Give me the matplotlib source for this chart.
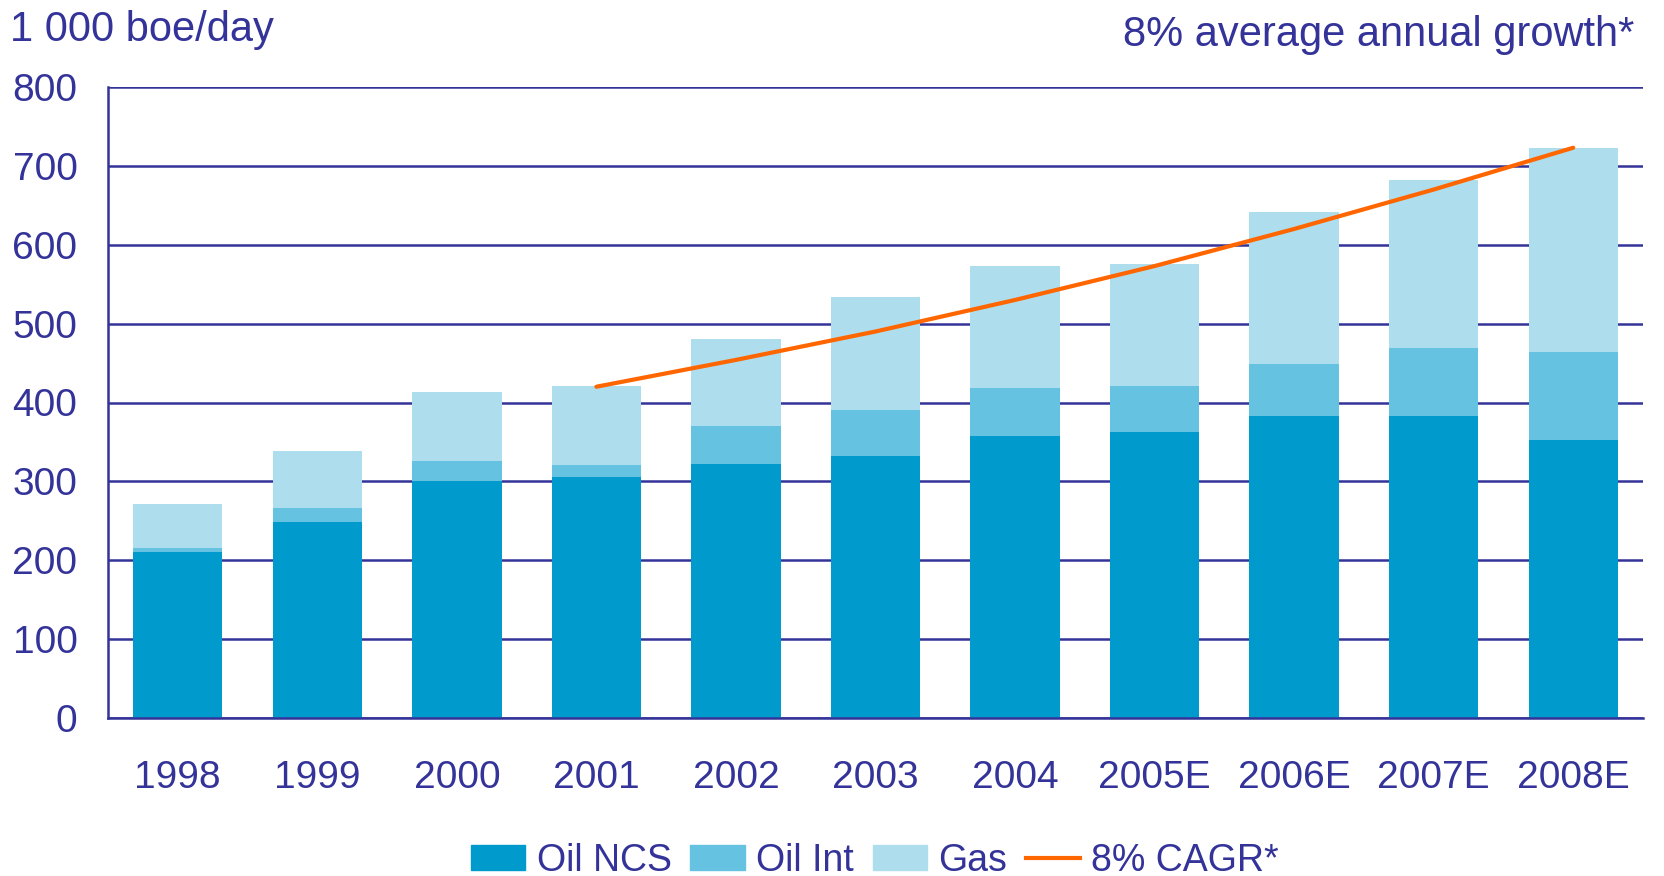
import numpy as np
import matplotlib.pyplot as plt
from matplotlib.patches import Patch
from matplotlib.lines import Line2D

plt.rcParams['font.family'] = ['Liberation Sans', 'DejaVu Sans']

# data (1 000 boe/day)
years = ['1998', '1999', '2000', '2001', '2002', '2003', '2004',
         '2005E', '2006E', '2007E', '2008E']
oil_ncs = [210, 248, 301, 306, 322, 332, 357, 363, 383, 383, 353]
oil_int = [5, 18, 25, 15, 48, 58, 61, 58, 66, 86, 111]
gas = [56, 73, 87, 100, 111, 144, 155, 155, 193, 213, 259]
cagr_years = ['2001', '2002', '2003', '2004', '2005E', '2006E', '2007E', '2008E']
cagr = [420, 454, 490, 530, 573, 620, 670, 723]

navy = '#333399'
c_ncs, c_int, c_gas, c_line = '#009ACD', '#66C2E1', '#AEDEEE', '#FF6600'

fig = plt.figure(figsize=(16.64, 8.76), dpi=100)
ax = fig.add_axes([108 / 1664, 1 - 718 / 876, (1643 - 108) / 1664, (718 - 87) / 876])

x = np.arange(len(years))
w = 0.64
ncs = np.array(oil_ncs)
oint = np.array(oil_int)
ax.bar(x, ncs, w, color=c_ncs, zorder=2)
ax.bar(x, oint, w, bottom=ncs, color=c_int, zorder=2)
ax.bar(x, gas, w, bottom=ncs + oint, color=c_gas, zorder=2)

xl = [years.index(y) for y in cagr_years]
ax.plot(xl, cagr, color=c_line, lw=3, zorder=3, solid_capstyle='round')

ax.set_xlim(-0.5, 10.5)
ax.set_ylim(0, 800)
ax.set_yticks(range(0, 801, 100))
ax.set_xticks(x)
ax.set_xticklabels(years)
ax.grid(axis='y', color=navy, lw=1.8, zorder=1)
ax.set_axisbelow(True)
for s in ['top', 'right']:
    ax.spines[s].set_visible(False)
for s in ['left', 'bottom']:
    ax.spines[s].set_color(navy)
    ax.spines[s].set_linewidth(1.8)
ax.tick_params(axis='both', length=0, labelsize=28, labelcolor=navy)
ax.tick_params(axis='y', pad=22)
ax.tick_params(axis='x', pad=30)

fig.text(10 / 1664, 1 - 30 / 876, '1 000 boe/day', fontsize=30, color=navy,
         ha='left', va='center')
fig.text(1634 / 1664, 1 - 35 / 876, '8% average annual growth*', fontsize=30,
         color=navy, ha='right', va='center')

handles = [Patch(color=c_ncs), Patch(color=c_int), Patch(color=c_gas),
           Line2D([], [], color=c_line, lw=3)]
labels = ['Oil NCS', 'Oil Int', 'Gas', '8% CAGR*']
fig.legend(handles, labels, loc='center', bbox_to_anchor=(875 / 1664, 1 - 861 / 876),
           ncol=4, frameon=False, fontsize=27, labelcolor=navy,
           handlelength=1.45, handleheight=0.65, handletextpad=0.3, columnspacing=0.5)

fig.savefig('out.png', dpi=100)
